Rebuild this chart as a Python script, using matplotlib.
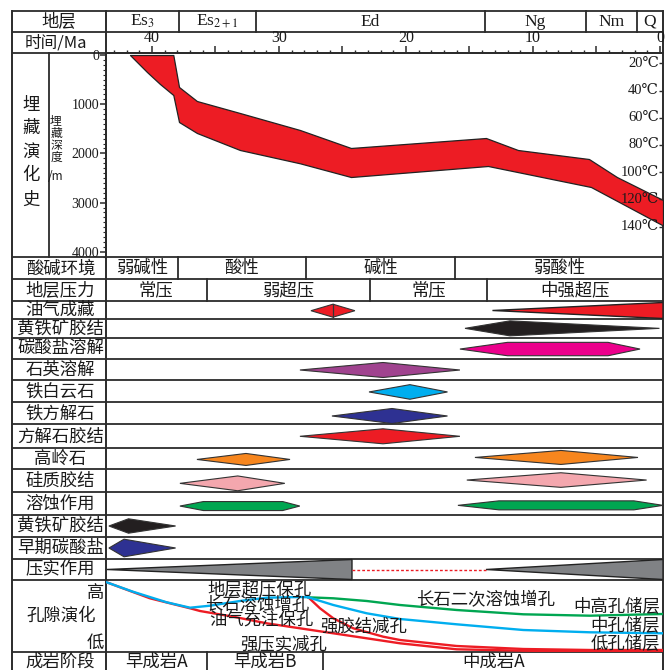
import numpy as np
import matplotlib
matplotlib.use('Agg')
import matplotlib.pyplot as plt
from matplotlib.patches import Polygon
from matplotlib.ticker import MultipleLocator

plt.rcParams['font.family'] = ['Noto Sans CJK SC', 'DejaVu Sans']
plt.rcParams['mathtext.fontset'] = 'stix'

# ---------------------------------------------------------------- data
strata_labels = ['Es$_{3}$', 'Es$_{2+1}$', 'Ed', 'Ng', 'Nm', 'Q']
strata_bounds = [37.9, 31.8, 13.8, 5.8, 1.8]          # Ma
time_labels = [40, 30, 20, 10, 0]

burial_top_t = [41.73, 38.32, 37.87, 36.46, 33.07, 28.35, 24.33, 13.70, 11.18, 5.59, 3.39, -0.24]
burial_top_d = [0, 0, 650, 935, 1179, 1524, 1890, 1687, 1931, 2114, 2480, 2947]
burial_base_t = [41.73, 40.39, 39.37, 38.32, 37.87, 36.46, 33.07, 28.35, 24.33, 13.54, 5.43, 3.07, -0.24]
burial_base_d = [0, 346, 589, 813, 1362, 1585, 1931, 2201, 2480, 2256, 2683, 3008, 3465]
depth_ticks = [0, 1000, 2000, 3000, 4000]
temp_ticks = [20, 40, 60, 80, 100, 120, 140]

row_labels = ['酸碱环境', '地层压力', '油气成藏', '黄铁矿胶结', '碳酸盐溶解', '石英溶解',
              '铁白云石', '铁方解石', '方解石胶结', '高岭石', '硅质胶结', '溶蚀作用',
              '黄铁矿胶结', '早期碳酸盐', '压实作用', '孔隙演化', '成岩阶段']

ph_labels = ['弱碱性', '酸性', '碱性', '弱酸性']
ph_bounds = [37.95, 27.9, 16.1]
pressure_labels = ['常压', '弱超压', '常压', '中强超压']
pressure_bounds = [35.7, 22.8, 13.6]
stage_labels = ['早成岩A', '早成岩B', '中成岩A']
stage_bounds = [35.7, 26.5]

# diagenetic events: row index, start, plateau start, plateau end, end (Ma)
ev_row = [2, 3, 4, 5, 6, 7, 8, 9, 9, 10, 10, 11, 11, 12, 13]
ev_start = [27.48, 15.35, 15.75, 28.35, 22.91, 25.83, 28.35, 36.46, 14.57, 37.80, 15.21, 37.80, 15.91, 43.39, 43.39]
ev_peak1 = [25.75, 11.81, 12.00, 21.81, 19.69, 21.10, 21.81, 32.60, 7.80, 33.25, 7.80, 35.95, 12.68, 41.85, 42.20]
ev_peak2 = [25.75, 11.81, 4.09, 21.81, 19.69, 21.10, 21.81, 32.60, 7.80, 33.25, 7.80, 29.71, 2.05, 41.85, 42.20]
ev_end = [24.02, 0.04, 1.57, 15.75, 16.73, 16.73, 15.75, 29.13, 1.73, 29.54, 1.05, 28.36, -0.24, 38.14, 38.14]

oil_wedge = (13.19, -0.24)
compaction_wedges = [(43.54, 24.25), (13.70, -0.24)]

# porosity evolution (relative porosity index, 0 = low, 72 = high)
por_early_t = [43.57, 41.50, 38.84, 37.00, 35.43, 33.07, 30.97, 28.35, 27.69]
por_early_p = [69.7, 60.3, 49.7, 44.3, 46.3, 51.0, 54.3, 55.0, 54.7]
por_mid_t = [27.69, 25.72, 23.09, 20.47, 16.01, 10.76, 5.51, -0.24]
por_mid_p = [54.7, 47.0, 38.7, 33.0, 27.7, 22.0, 19.7, 18.7]
por_high_t = [27.69, 25.72, 23.09, 20.47, 16.01, 10.76, 5.51, -0.24]
por_high_p = [54.7, 53.7, 51.0, 47.0, 42.0, 37.7, 36.3, 38.0]
por_cem_t = [27.69, 26.77, 25.72, 24.15, 21.79, 20.47, 16.01, 10.76, 5.51, -0.24]
por_cem_p = [54.7, 43.7, 33.7, 23.7, 15.3, 12.0, 6.0, 3.0, 2.0, 2.0]
por_comp_t = [43.57, 40.16, 37.00, 36.22, 33.60, 30.97, 28.35, 25.72, 23.09, 20.47, 16.01, 10.76, 5.51, -0.24]
por_comp_p = [69.7, 53.7, 43.7, 41.0, 35.3, 28.7, 23.7, 18.7, 13.7, 8.7, 2.7, 1.3, 0.5, 0.5]

por_notes = ['地层超压保孔', '长石溶蚀增孔', '油气充注保孔', '强胶结减孔', '强压实减孔', '长石二次溶蚀增孔']
por_notes_t = [31.5, 31.7, 31.42, 23.35, 29.66, 13.7]
por_notes_p = [63, 47, 32, 25, 8, 52]
res_notes = ['中高孔储层', '中孔储层', '低孔储层']
res_notes_p = [46.3, 27, 8.7]

# ---------------------------------------------------------------- style / layout
RED = '#ED1C24'
BLACK = '#231F20'
ev_color = [RED, BLACK, '#EC008C', '#A0438F', '#00AEEF', '#2E3192', RED,
            '#F7861E', '#F7861E', '#F4A7AE', '#F4A7AE', '#00A651', '#00A651', BLACK, '#2E3192']
ev_half = [6.5, 7.5, 6.7, 7.5, 7.3, 7.5, 7.5, 6.0, 7.0, 7.4, 7.3, 4.5, 4.5, 7.2, 8.8]
ev_dy = [0.7, 0, 0.7, 0.5, 0.8, 2.7, 0, 0.8, -1.2, 3.0, -0.3, 2.7, 2.0, 0, 0]
LINE = '#2b2b2b'
TXT = '#1a1a1a'
SERIF = ['Liberation Serif', 'DejaVu Serif', 'DejaVu Sans']
CJK = 12.5

W, H = 668, 670
X0, XL, X1 = 12, 106, 663
T_OLD, T_NOW = 43.62, -0.24
HEAD = [10.7, 32.3, 53.3]
BUR = (53.3, 257.3)
row_edges = [257.3, 279.3, 301, 319, 337.7, 359, 380, 402.3, 424.3, 448.3, 469, 491.7,
             515, 537, 559, 580, 652, 670]
row_mid = [(a + b) / 2 for a, b in zip(row_edges[:-1], row_edges[1:])]
LAST_Y = 661.5

fig = plt.figure(figsize=(W / 100, H / 100), dpi=100)


def add_axes_px(x0, y0, x1, y1):
    a = fig.add_axes([x0 / W, 1 - y1 / H, (x1 - x0) / W, (y1 - y0) / H])
    a.set_facecolor('none')
    return a


# frame axes (pixel space)
ax = add_axes_px(0, 0, W, H)
ax.set_xlim(0, W)
ax.set_ylim(H, 0)
ax.axis('off')
# time-column axes (x in Ma, y in pixel rows)
axt = add_axes_px(XL, 0, X1, H)
axt.set_xlim(T_OLD, T_NOW)
axt.set_ylim(H, 0)
axt.axis('off')

# horizontal rules
for y in HEAD + row_edges[:-1]:
    ax.plot([X0, X1], [y, y], color=LINE, lw=1.3, solid_capstyle='butt')
for x in (X0, XL, X1):
    ax.plot([x, x], [HEAD[0], H], color=LINE, lw=1.4)
ax.plot([48.5, 48.5], [BUR[0], BUR[1]], color=LINE, lw=1.3)

# header rows
ax.text(59, (HEAD[0] + HEAD[1]) / 2, '地层', ha='center', va='center', fontsize=CJK, color=TXT)
ax.text(56, (HEAD[1] + HEAD[2]) / 2 + 0.5, '时间/Ma', ha='center', va='center', fontsize=CJK - 0.5, color=TXT)
sb = [T_OLD] + strata_bounds + [T_NOW]
for i, lab in enumerate(strata_labels):
    axt.text((sb[i] + sb[i + 1]) / 2, (HEAD[0] + HEAD[1]) / 2, lab, ha='center', va='center',
             fontsize=12.5, family=SERIF, color=TXT)
for b in strata_bounds:
    axt.plot([b, b], [HEAD[0], HEAD[1]], color=LINE, lw=1.3)


# segmented rows
def seg_row(idx, labels, bounds):
    y0, y1 = row_edges[idx], row_edges[idx + 1]
    bb = [T_OLD] + bounds + [T_NOW]
    for b in bounds:
        axt.plot([b, b], [y0, min(y1, H)], color=LINE, lw=1.3)
    for i, lab in enumerate(labels):
        axt.text((bb[i] + bb[i + 1]) / 2, (y0 + y1) / 2 if y1 < H else LAST_Y, lab,
                 ha='center', va='center', fontsize=CJK, color=TXT)


seg_row(0, ph_labels, ph_bounds)
seg_row(1, pressure_labels, pressure_bounds)
seg_row(16, stage_labels, stage_bounds)

# row labels
for i, lab in enumerate(row_labels):
    if lab == '孔隙演化':
        ax.text(61, 616, lab, ha='center', va='center', fontsize=CJK, color=TXT)
        continue
    y = row_mid[i] if i < 16 else LAST_Y
    ax.text(60.5, y, lab, ha='center', va='center', fontsize=CJK, color=TXT)
ax.text(104, 593, '高', ha='right', va='center', fontsize=CJK, color=TXT)
ax.text(104, 643, '低', ha='right', va='center', fontsize=CJK, color=TXT)

# burial history labels
for ch, y in zip('埋藏演化史', [105, 128, 152, 175, 200]):
    ax.text(31, y, ch, ha='center', va='center', fontsize=CJK, color=TXT)
for ch, y in zip(['埋', '藏', '深', '度', '/m'], [121, 133, 145, 157, 176]):
    ax.text(56, y, ch, ha='center', va='center', fontsize=8.5, color=TXT)

# ---------------------------------------------------------------- burial history
axb = add_axes_px(XL, BUR[0], X1, BUR[1])
axb.set_xlim(T_OLD, T_NOW)
axb.set_ylim(4112, -35)
tt = np.array(sorted(set(burial_top_t) | set(burial_base_t)))
top = np.interp(tt, burial_top_t[::-1], burial_top_d[::-1])
base = np.interp(tt, burial_base_t[::-1], burial_base_d[::-1])
axb.fill_between(tt, top, base, facecolor=RED, edgecolor='#222222', lw=0.9, zorder=3)

axb.xaxis.tick_top()
axb.set_xticks(np.arange(0, 41, 5))
axb.set_xticklabels([str(v) if v in time_labels else '' for v in np.arange(0, 41, 5)],
                    family=SERIF, fontsize=11.5, color=TXT)
axb.xaxis.set_minor_locator(MultipleLocator(1))
axb.tick_params(axis='x', which='major', direction='out', length=5, width=1.1, pad=0, colors=LINE)
axb.tick_params(axis='x', which='minor', direction='out', length=2.5, width=1.0, colors=LINE)
axb.set_yticks(depth_ticks)
axb.set_yticklabels([str(d) for d in depth_ticks], family=SERIF, fontsize=10, color=TXT)
axb.yaxis.set_minor_locator(MultipleLocator(100))
axb.tick_params(axis='y', which='major', direction='out', length=4, width=1.1, pad=1, colors=LINE)
axb.tick_params(axis='y', which='minor', direction='out', length=2.5, width=0.8, colors=LINE)
for tl in axb.get_xticklabels() + axb.get_yticklabels():
    tl.set_color(TXT)
for s in ('right', 'bottom'):
    axb.spines[s].set_visible(False)
for s in ('top', 'left'):
    axb.spines[s].set_linewidth(1.3)
    axb.spines[s].set_color(LINE)

axT = axb.twinx()
axT.set_ylim(162.6, 12.6)
axT.set_yticks(temp_ticks)
axT.set_yticklabels([])
axT.tick_params(axis='y', direction='in', length=3, width=1, colors=LINE)
for s in axT.spines.values():
    s.set_visible(False)
for T in temp_ticks:
    axT.text(0.993, T, f'{T}℃', transform=axT.get_yaxis_transform(), ha='right', va='center',
             fontsize=10.5, family=SERIF, color=TXT)

# ---------------------------------------------------------------- diagenetic events
for r, a, p1, p2, b, c, h, dy in zip(ev_row, ev_start, ev_peak1, ev_peak2, ev_end, ev_color, ev_half, ev_dy):
    yc = row_mid[r] + dy
    pts = [(a, yc), (p1, yc - h), (p2, yc - h), (b, yc), (p2, yc + h), (p1, yc + h)]
    axt.add_patch(Polygon(pts, closed=True, facecolor=c, edgecolor='#333333', lw=0.8, zorder=3))
# vertical mark in the oil charge diamond
yc = row_mid[2] + ev_dy[0]
axt.plot([ev_peak1[0], ev_peak1[0]], [yc - ev_half[0], yc + ev_half[0]], color='#333333', lw=0.9, zorder=4)
# oil charge wedge
yc = row_mid[2] + 0.5
axt.add_patch(Polygon([(oil_wedge[0], yc), (oil_wedge[1], yc - 8), (oil_wedge[1], yc + 8)],
                      closed=True, facecolor=RED, edgecolor='#222222', lw=1.0, zorder=3))
# compaction
yc = row_mid[14]
for a, b in compaction_wedges:
    axt.add_patch(Polygon([(a, yc), (b, yc - 10), (b, yc + 10)], closed=True,
                          facecolor='#808285', edgecolor='#222222', lw=1.0, zorder=3))
axt.plot([compaction_wedges[0][1], compaction_wedges[1][0]], [yc, yc], color=RED, lw=1.0,
         ls=(0, (2, 1.5)), zorder=3)

# ---------------------------------------------------------------- porosity evolution
axp = add_axes_px(XL, row_edges[15], X1, row_edges[16])
axp.set_xlim(T_OLD, T_NOW)
axp.set_ylim(0, 72)
axp.axis('off')
LW = 1.7
axp.plot(por_comp_t, por_comp_p, color=RED, lw=LW, zorder=3)
axp.plot(por_cem_t, por_cem_p, color=RED, lw=LW, zorder=3)
axp.plot(por_high_t, por_high_p, color='#00A651', lw=LW, zorder=4)
axp.plot(por_mid_t, por_mid_p, color='#00AEEF', lw=LW, zorder=5)
axp.plot(por_early_t, por_early_p, color='#00AEEF', lw=LW, zorder=5)
for s, t, p in zip(por_notes, por_notes_t, por_notes_p):
    axp.text(t, p, s, ha='center', va='center', fontsize=CJK, color=TXT, zorder=6)
for s, p in zip(res_notes, res_notes_p):
    axp.text(0.995, p, s, transform=axp.get_yaxis_transform(), ha='right', va='center',
             fontsize=CJK, color=TXT, zorder=6)

fig.savefig('out.png', dpi=100)
